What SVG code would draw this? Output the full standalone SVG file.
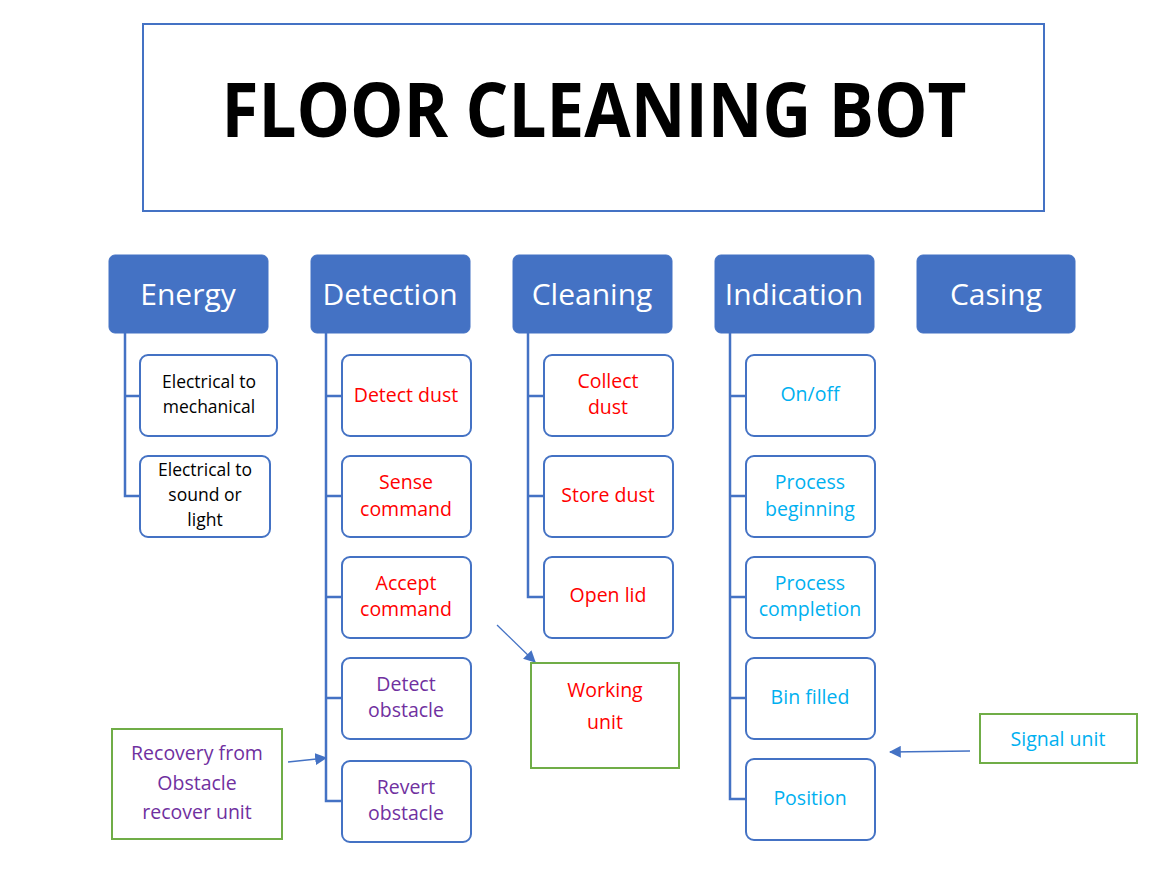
<svg xmlns="http://www.w3.org/2000/svg" width="1175" height="891" viewBox="0 0 1175 891">
<style>
text{font-family:"Open Sans","Liberation Sans",sans-serif;text-anchor:middle}
.hd rect{fill:#4472C4;stroke:#4472C4}
.hd text{fill:#fff;font-size:30px}
.ch rect{fill:#fff;stroke:#4472C4;stroke-width:2}
.ch text{font-size:19.5px}
.ch text.blk{font-size:17.5px}
.gr rect{fill:#fff;stroke:#70AD47;stroke-width:2}
.gr text{font-size:19.5px}
.blk{fill:#000}.red{fill:#FF0000}.pur{fill:#7030A0}.cy{fill:#00B0F0}
.tree{fill:none;stroke:#4472C4;stroke-width:2.5}
.arr{stroke:#4472C4;stroke-width:1.3;fill:none;marker-end:url(#ah)}
</style>
<defs>
<marker id="ah" viewBox="0 0 10 10" refX="9" refY="5" markerWidth="12" markerHeight="12" markerUnits="userSpaceOnUse" orient="auto"><path d="M0,0 L10,5 L0,10 z" fill="#4472C4"/></marker>
</defs>
<rect width="1175" height="891" fill="#fff"/>
<g id="title"><rect x="143" y="24" width="901" height="187" fill="#fff" stroke="#4472C4" stroke-width="2"/><text x="594" y="137" font-size="76" font-weight="bold" fill="#000" textLength="745" lengthAdjust="spacingAndGlyphs">FLOOR CLEANING BOT</text></g>
<g id="connectors">
<path class="tree" d="M125,333 V496 H140 M125,396 H140"/>
<path class="tree" d="M326,333 V801 H342 M326,396 H342 M326,496 H342 M326,597 H342 M326,698 H342"/>
<path class="tree" d="M528,333 V597 H544 M528,396 H544 M528,496 H544"/>
<path class="tree" d="M730,333 V799 H746 M730,396 H746 M730,496 H746 M730,597 H746 M730,698 H746"/>
<line class="arr" x1="288" y1="762" x2="326" y2="758"/>
<line class="arr" x1="497" y1="625" x2="535" y2="662"/>
<line class="arr" x1="970" y1="751" x2="890" y2="752"/>
</g>
<g id="energy" class="hd"><rect x="109" y="255" width="159" height="78" rx="6"/><text x="188" y="305">Energy</text></g>
<g id="detection" class="hd"><rect x="311" y="255" width="159" height="78" rx="6"/><text x="390" y="305">Detection</text></g>
<g id="cleaning" class="hd"><rect x="513" y="255" width="159" height="78" rx="6"/><text x="592" y="305">Cleaning</text></g>
<g id="indication" class="hd"><rect x="715" y="255" width="159" height="78" rx="6"/><text x="794" y="305">Indication</text></g>
<g id="casing" class="hd"><rect x="917" y="255" width="158" height="78" rx="6"/><text x="996" y="305">Casing</text></g>

<g id="e1" class="ch"><rect x="140" y="355" width="137" height="81" rx="8"/><text class="blk" x="209" y="388">Electrical to</text><text class="blk" x="209" y="413">mechanical</text></g>
<g id="e2" class="ch"><rect x="140" y="456" width="130" height="81" rx="8"/><text class="blk" x="205" y="476">Electrical to</text><text class="blk" x="205" y="501">sound or</text><text class="blk" x="205" y="526">light</text></g>

<g id="d1" class="ch"><rect x="342" y="355" width="129" height="81" rx="8"/><text class="red" x="406" y="402">Detect dust</text></g>
<g id="d2" class="ch"><rect x="342" y="456" width="129" height="81" rx="8"/><text class="red" x="406" y="489">Sense</text><text class="red" x="406" y="516">command</text></g>
<g id="d3" class="ch"><rect x="342" y="557" width="129" height="81" rx="8"/><text class="red" x="406" y="590">Accept</text><text class="red" x="406" y="616">command</text></g>
<g id="d4" class="ch"><rect x="342" y="658" width="129" height="81" rx="8"/><text class="pur" x="406" y="691">Detect</text><text class="pur" x="406" y="717">obstacle</text></g>
<g id="d5" class="ch"><rect x="342" y="761" width="129" height="81" rx="8"/><text class="pur" x="406" y="794">Revert</text><text class="pur" x="406" y="820">obstacle</text></g>

<g id="c1" class="ch"><rect x="544" y="355" width="129" height="81" rx="8"/><text class="red" x="608" y="388">Collect</text><text class="red" x="608" y="414">dust</text></g>
<g id="c2" class="ch"><rect x="544" y="456" width="129" height="81" rx="8"/><text class="red" x="608" y="502">Store dust</text></g>
<g id="c3" class="ch"><rect x="544" y="557" width="129" height="81" rx="8"/><text class="red" x="608" y="602">Open lid</text></g>

<g id="i1" class="ch"><rect x="746" y="355" width="129" height="81" rx="8"/><text class="cy" x="810" y="401">On/off</text></g>
<g id="i2" class="ch"><rect x="746" y="456" width="129" height="81" rx="8"/><text class="cy" x="810" y="489">Process</text><text class="cy" x="810" y="516">beginning</text></g>
<g id="i3" class="ch"><rect x="746" y="557" width="129" height="81" rx="8"/><text class="cy" x="810" y="590">Process</text><text class="cy" x="810" y="616">completion</text></g>
<g id="i4" class="ch"><rect x="746" y="658" width="129" height="81" rx="8"/><text class="cy" x="810" y="704">Bin filled</text></g>
<g id="i5" class="ch"><rect x="746" y="759" width="129" height="81" rx="8"/><text class="cy" x="810" y="805">Position</text></g>

<g id="recovery" class="gr"><rect x="112" y="729" width="170" height="110"/><text class="pur" x="197" y="760">Recovery from</text><text class="pur" x="197" y="790">Obstacle</text><text class="pur" x="197" y="819">recover unit</text></g>
<g id="working" class="gr"><rect x="531" y="663" width="148" height="105"/><text class="red" x="605" y="697">Working</text><text class="red" x="605" y="729">unit</text></g>
<g id="signal" class="gr"><rect x="980" y="714" width="157" height="49"/><text class="cy" x="1058" y="746">Signal unit</text></g>
</svg>
